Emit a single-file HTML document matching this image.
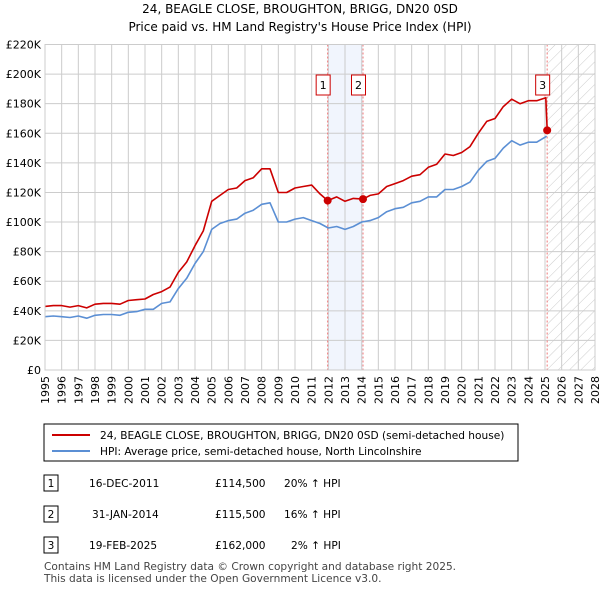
<!DOCTYPE html>
<html><head><meta charset="utf-8"><style>
body{margin:0;background:#fff;font-family:"Liberation Sans",sans-serif;}
svg text{font-family:"DejaVu Sans","Liberation Sans",sans-serif;}
</style></head><body>
<svg id="c" width="600" height="590" xmlns="http://www.w3.org/2000/svg">
<defs><pattern id="hatch" width="8" height="8" patternUnits="userSpaceOnUse" patternTransform="rotate(45)"><line x1="0" y1="0" x2="0" y2="8" stroke="#ccc" stroke-width="1"/></pattern></defs>
<text x="300" y="13" text-anchor="middle" font-size="12">24, BEAGLE CLOSE, BROUGHTON, BRIGG, DN20 0SD</text>
<text x="300" y="31" text-anchor="middle" font-size="12">Price paid vs. HM Land Registry's House Price Index (HPI)</text>
<g id="plot"></g>
<rect x="44" y="424" width="474" height="37" fill="#fff" stroke="#000" stroke-width="1"/>
<line x1="52" y1="435" x2="90" y2="435" stroke="#cc0000" stroke-width="2"/>
<text x="100" y="439" font-size="10.6">24, BEAGLE CLOSE, BROUGHTON, BRIGG, DN20 0SD (semi-detached house)</text>
<line x1="52" y1="451" x2="90" y2="451" stroke="#5b8fd4" stroke-width="2"/>
<text x="100" y="455" font-size="10.6">HPI: Average price, semi-detached house, North Lincolnshire</text>
<g font-size="10.6">
<rect x="44" y="475" width="14" height="16" fill="#fff" stroke="#000"/><text x="51" y="487" text-anchor="middle">1</text>
<text x="89" y="487">16-DEC-2011</text><text x="215" y="487">£114,500</text><text x="284" y="487">20% ↑ HPI</text>
<rect x="44" y="506" width="14" height="16" fill="#fff" stroke="#000"/><text x="51" y="518" text-anchor="middle">2</text>
<text x="92" y="518">31-JAN-2014</text><text x="215" y="518">£115,500</text><text x="284" y="518">16% ↑ HPI</text>
<rect x="44" y="537" width="14" height="16" fill="#fff" stroke="#000"/><text x="51" y="549" text-anchor="middle">3</text>
<text x="89" y="549">19-FEB-2025</text><text x="215" y="549">£162,000</text><text x="291" y="549">2% ↑ HPI</text>
</g>
<text x="44" y="570" font-size="10.6" fill="#444">Contains HM Land Registry data © Crown copyright and database right 2025.</text>
<text x="44" y="582" font-size="10.6" fill="#444">This data is licensed under the Open Government Licence v3.0.</text>
</svg>
<script>
const yearTicks=[1995,1996,1997,1998,1999,2000,2001,2002,2003,2004,2005,2006,2007,2008,2009,2010,2011,2012,2013,2014,2015,2016,2017,2018,2019,2020,2021,2022,2023,2024,2025,2026,2027,2028];
const priceTicks=[0,20,40,60,80,100,120,140,160,180,200,220];
const hpiYears=[1995,1995.5,1996,1996.5,1997,1997.5,1998,1998.5,1999,1999.5,2000,2000.5,2001,2001.5,2002,2002.5,2003,2003.5,2004,2004.5,2005,2005.5,2006,2006.5,2007,2007.5,2008,2008.5,2009,2009.5,2010,2010.5,2011,2011.5,2012,2012.5,2013,2013.5,2014,2014.5,2015,2015.5,2016,2016.5,2017,2017.5,2018,2018.5,2019,2019.5,2020,2020.5,2021,2021.5,2022,2022.5,2023,2023.5,2024,2024.5,2025.1];
const hpiValues=[36,36.5,36,35.5,36.5,35,37,37.5,37.5,37,39,39.5,41,41,45,46,55,62,72,80,95,99,101,102,106,108,112,113,100,100,102,103,101,99,96,97,95,97,100,101,103,107,109,110,113,114,117,117,122,122,124,127,135,141,143,150,155,152,154,154,158];
const ppYears=[1995,1995.5,1996,1996.5,1997,1997.5,1998,1998.5,1999,1999.5,2000,2000.5,2001,2001.5,2002,2002.5,2003,2003.5,2004,2004.5,2005,2005.5,2006,2006.5,2007,2007.5,2008,2008.5,2009,2009.5,2010,2010.5,2011,2011.5,2011.96,2012.5,2013,2013.5,2014.08,2014.5,2015,2015.5,2016,2016.5,2017,2017.5,2018,2018.5,2019,2019.5,2020,2020.5,2021,2021.5,2022,2022.5,2023,2023.5,2024,2024.5,2025.05,2025.13];
const ppValues=[43,43.5,43.5,42.5,43.5,42,44.5,45,45,44.5,47,47.5,48,51,53,56,66,73,84,94,114,118,122,123,128,130,136,136,120,120,123,124,125,119,114.5,117,114,116,115.5,118,119,124,126,128,131,132,137,139,146,145,147,151,160,168,170,178,183,180,182,182,184,162];
const saleYears=[2011.96,2014.08,2025.13];
const saleValues=[114.5,115.5,162];
const saleLabels=["1","2","3"];
const NS="http://www.w3.org/2000/svg";
const L=45,R=595,T=44.5,B=370;
const xs=y=>L+(y-1995)/(2028-1995)*(R-L);
const ys=v=>B-v/220*(B-T);
const g=document.getElementById('plot');
function mk(t,a){const e=document.createElementNS(NS,t);for(const k in a)e.setAttribute(k,a[k]);g.appendChild(e);return e;}
let e=mk('rect',{x:xs(saleYears[0]),y:T,width:xs(saleYears[1])-xs(saleYears[0]),height:B-T,fill:'#f1f5fd'});


e=mk('rect',{x:xs(saleYears[2]),y:T,width:R-xs(saleYears[2]),height:B-T,fill:'url(#hatch)'});


yearTicks.forEach(y=>{const l=mk('line',{x1:xs(y),x2:xs(y),y1:T,y2:B,stroke:'#ccc'});


const t=mk('text',{x:0,y:0,'font-size':11,'text-anchor':'end',transform:`translate(${xs(y)+4},${B+6}) rotate(-90)`});t.textContent=y;

});
priceTicks.forEach(v=>{const l=mk('line',{x1:L,x2:R,y1:ys(v),y2:ys(v),stroke:'#ccc'});


const t=mk('text',{x:L-4,y:ys(v)+4,'font-size':11,'text-anchor':'end'});t.textContent=v===0?'£0':'£'+v+'K';

});
saleYears.forEach((y,i)=>{const l=mk('line',{x1:xs(y),x2:xs(y),y1:T,y2:B,stroke:'#ee7777','stroke-dasharray':'2,2'});

});
function path(xa,va,col,name){const d=xa.map((x,i)=>(i?'L':'M')+xs(x).toFixed(1)+','+ys(va[i]).toFixed(1)).join('');
const p=mk('path',{d:d,fill:'none',stroke:col,'stroke-width':1.6,'stroke-linejoin':'round'});

}
path(hpiYears,hpiValues,'#5b8fd4','hpi-line');
path(ppYears,ppValues,'#cc0000','price-paid-line');
saleYears.forEach((y,i)=>{const c=mk('circle',{cx:xs(y),cy:ys(saleValues[i]),r:4,fill:'#cc0000'});


const bx=xs(y)-4.5;
const r=mk('rect',{x:bx-7,y:75,width:14,height:20,fill:'#fff',stroke:'#cc0000'});


const t=mk('text',{x:bx,y:89,'font-size':11,'text-anchor':'middle'});t.textContent=saleLabels[i];

});
e=mk('rect',{x:L,y:T,width:R-L,height:B-T,fill:'none',stroke:'#ccc'});


</script>
</body></html>
